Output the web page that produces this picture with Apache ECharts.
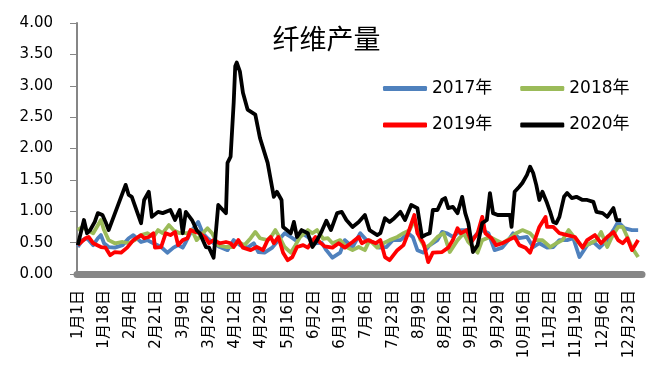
<!DOCTYPE html>
<html>
<head>
<meta charset="utf-8">
<script src="https://cdn.jsdelivr.net/npm/echarts@6/dist/echarts.min.js"></script>
<style>html,body{margin:0;padding:0;background:#fff}#c{width:653px;height:386px}</style>
</head>
<body>
<div id="c"></div>
<script>
// Category days for a leap year (2020): month lengths
const monthDays = [31, 29, 31, 30, 31, 30, 31, 31, 30, 31, 30, 31];
const categories = [];
monthDays.forEach((n, m) => { for (let d = 1; d <= n; d++) categories.push((m + 1) + '月' + d + '日'); });

const yTicks = [0, 0.5, 1, 1.5, 2, 2.5, 3, 3.5, 4];
const seriesNames = ['2017年', '2018年', '2019年', '2020年'];

// [day index, value] samples
const s2017 = [[0,0.43],[3,0.54],[6,0.57],[10,0.46],[13,0.57],[15,0.62],[17,0.49],[20,0.43],[24,0.42],[29,0.46],[33,0.57],[36,0.62],[41,0.51],[45,0.54],[49,0.49],[54,0.43],[58,0.34],[62,0.42],[65,0.46],[68,0.42],[70,0.51],[74,0.70],[78,0.83],[81,0.65],[84,0.57],[88,0.49],[92,0.43],[97,0.38],[101,0.54],[105,0.46],[110,0.42],[114,0.49],[117,0.35],[121,0.34],[126,0.42],[130,0.54],[134,0.65],[138,0.59],[141,0.54],[145,0.65],[149,0.59],[154,0.49],[158,0.50],[161,0.38],[165,0.26],[170,0.34],[173,0.54],[178,0.43],[183,0.65],[187,0.54],[191,0.51],[195,0.42],[200,0.43],[204,0.54],[209,0.54],[214,0.65],[217,0.59],[220,0.38],[224,0.34],[228,0.46],[233,0.54],[236,0.67],[239,0.65],[243,0.59],[248,0.70],[252,0.70],[255,0.54],[259,0.65],[262,0.70],[266,0.65],[270,0.38],[275,0.42],[279,0.54],[282,0.65],[286,0.57],[291,0.59],[295,0.43],[299,0.49],[304,0.42],[308,0.43],[312,0.54],[317,0.54],[321,0.57],[325,0.27],[330,0.46],[334,0.51],[338,0.42],[343,0.54],[347,0.70],[350,0.83],[354,0.73],[359,0.70],[363,0.70]];
const s2018 = [[0,0.70],[3,0.75],[6,0.70],[10,0.65],[15,0.86],[17,0.70],[20,0.54],[24,0.49],[29,0.51],[33,0.49],[37,0.54],[41,0.62],[45,0.65],[49,0.59],[52,0.70],[55,0.65],[59,0.78],[62,0.70],[66,0.65],[71,0.65],[74,0.70],[77,0.54],[81,0.65],[84,0.73],[87,0.65],[91,0.46],[96,0.43],[100,0.43],[104,0.51],[108,0.46],[112,0.57],[115,0.67],[118,0.57],[123,0.54],[126,0.62],[128,0.70],[131,0.57],[134,0.43],[138,0.34],[141,0.46],[144,0.59],[149,0.70],[152,0.65],[155,0.70],[159,0.56],[162,0.57],[165,0.49],[170,0.54],[174,0.43],[178,0.38],[182,0.43],[186,0.38],[189,0.54],[194,0.42],[198,0.49],[202,0.54],[207,0.59],[211,0.65],[215,0.70],[218,0.86],[222,0.54],[225,0.42],[228,0.46],[233,0.59],[237,0.65],[241,0.35],[246,0.54],[250,0.65],[253,0.51],[256,0.43],[259,0.34],[262,0.54],[267,0.59],[271,0.54],[275,0.49],[280,0.57],[284,0.65],[288,0.70],[293,0.65],[297,0.54],[301,0.54],[306,0.43],[310,0.49],[314,0.54],[318,0.70],[323,0.54],[327,0.43],[332,0.49],[336,0.54],[339,0.67],[343,0.43],[346,0.59],[350,0.75],[353,0.75],[356,0.59],[359,0.42],[363,0.27]];
const s2019 = [[0,0.46],[5,0.57],[7,0.59],[10,0.49],[15,0.43],[18,0.42],[21,0.30],[24,0.35],[28,0.34],[32,0.42],[36,0.54],[41,0.62],[43,0.57],[46,0.59],[49,0.65],[50,0.42],[54,0.43],[57,0.65],[60,0.62],[63,0.67],[65,0.46],[68,0.54],[71,0.57],[73,0.70],[76,0.67],[79,0.65],[83,0.57],[85,0.49],[88,0.54],[92,0.49],[96,0.51],[99,0.49],[101,0.43],[104,0.54],[107,0.42],[112,0.38],[116,0.43],[120,0.38],[123,0.54],[125,0.59],[127,0.49],[130,0.59],[133,0.34],[136,0.22],[139,0.27],[142,0.43],[146,0.46],[149,0.42],[154,0.59],[157,0.50],[160,0.44],[165,0.42],[169,0.49],[173,0.42],[178,0.51],[182,0.59],[184,0.49],[188,0.54],[193,0.49],[196,0.54],[199,0.27],[202,0.22],[207,0.38],[211,0.46],[214,0.65],[218,0.94],[220,0.65],[224,0.49],[227,0.19],[230,0.34],[236,0.35],[240,0.42],[243,0.54],[246,0.73],[248,0.65],[252,0.70],[255,0.51],[259,0.65],[262,0.91],[264,0.65],[268,0.57],[271,0.46],[275,0.49],[279,0.54],[283,0.59],[286,0.46],[290,0.42],[293,0.34],[296,0.54],[299,0.75],[303,0.91],[304,0.75],[308,0.75],[312,0.65],[317,0.62],[322,0.59],[327,0.42],[330,0.54],[335,0.62],[339,0.49],[343,0.59],[347,0.67],[350,0.54],[353,0.49],[356,0.57],[359,0.38],[361,0.46],[363,0.54]];
const s2020 = [[0,0.46],[4,0.86],[6,0.65],[8,0.70],[11,0.83],[13,0.97],[16,0.94],[18,0.83],[20,0.70],[31,1.42],[33,1.26],[35,1.23],[41,0.81],[43,1.18],[46,1.31],[48,0.91],[52,0.99],[55,0.97],[60,1.02],[63,0.86],[66,1.02],[68,0.65],[70,0.99],[74,0.86],[77,0.70],[79,0.65],[83,0.43],[85,0.42],[88,0.26],[91,1.10],[94,1.02],[96,0.97],[97,1.77],[99,1.87],[101,2.73],[102,3.31],[103,3.37],[105,3.23],[107,2.89],[110,2.62],[115,2.54],[118,2.17],[123,1.77],[127,1.23],[129,1.31],[132,1.18],[133,0.75],[138,0.65],[140,0.83],[142,0.59],[145,0.70],[149,0.65],[152,0.43],[155,0.54],[158,0.68],[161,0.85],[164,0.70],[168,0.97],[171,0.99],[174,0.86],[178,0.75],[182,0.83],[186,0.94],[189,0.70],[194,0.62],[196,0.65],[199,0.89],[202,0.83],[205,0.89],[209,0.99],[212,0.86],[216,1.10],[220,1.05],[223,0.59],[225,0.62],[228,0.65],[230,1.02],[233,1.02],[236,1.18],[238,1.21],[240,1.05],[243,1.07],[246,0.97],[249,1.23],[251,0.97],[253,0.81],[256,0.35],[259,0.46],[262,0.81],[265,0.86],[267,1.29],[269,0.97],[272,0.94],[280,0.94],[281,0.75],[283,1.31],[286,1.39],[288,1.45],[291,1.58],[293,1.71],[295,1.61],[297,1.42],[299,1.18],[301,1.31],[304,1.13],[306,0.99],[308,0.83],[310,0.81],[312,0.91],[315,1.23],[317,1.29],[320,1.21],[323,1.23],[327,1.18],[330,1.18],[334,1.15],[336,0.99],[340,0.97],[343,0.91],[347,1.05],[349,0.86],[352,0.86]];

const colors = ['#4F81BD', '#9BBB59', '#FF0000', '#000000'];
const seriesData = [s2017, s2018, s2019, s2020];

const FONT = '"DejaVu Sans", "Noto Sans CJK SC", sans-serif';
const chart = echarts.init(document.getElementById('c'), null, { renderer: 'canvas' });
const legendBase = { left: 383, padding: 0, itemWidth: 44, itemHeight: 5, itemGap: 28, icon: 'roundRect',
  textStyle: { fontFamily: FONT, fontSize: 17, color: '#000' } };
chart.setOption({
  animation: false,
  backgroundColor: '#fff',
  title: {
    text: '纤维产量', left: 'center', top: 20,
    textStyle: { fontFamily: '"Noto Sans CJK SC", sans-serif', fontSize: 27, fontWeight: 'normal', color: '#000' }
  },
  legend: [
    Object.assign({ data: [seriesNames[0], seriesNames[1]], top: 80 }, legendBase),
    Object.assign({ data: [seriesNames[2], seriesNames[3]], top: 116.5 }, legendBase)
  ],
  grid: { left: 77, right: 11, top: 23, bottom: 112, containLabel: false },
  xAxis: {
    type: 'category', data: categories, boundaryGap: true, offset: 3,
    axisLine: { lineStyle: { color: '#868686', width: 7 } },
    axisTick: { show: false },
    axisLabel: { interval: 16, rotate: 90, margin: 13, fontFamily: FONT, fontSize: 15, color: '#000' }
  },
  yAxis: {
    type: 'value', min: yTicks[0], max: yTicks[yTicks.length - 1], interval: 0.5,
    splitLine: { show: false },
    axisLine: { show: true, lineStyle: { color: '#868686', width: 2 } },
    axisTick: { show: true, length: 7, lineStyle: { color: '#868686', width: 1 } },
    axisLabel: { margin: 24, fontFamily: FONT, fontSize: 15, color: '#000', formatter: v => v.toFixed(2) }
  },
  series: seriesNames.map((n, i) => ({
    name: n, type: 'line', data: seriesData[i], symbol: 'none', showSymbol: false,
    lineStyle: { color: colors[i], width: 3.8, join: 'round' }, itemStyle: { color: colors[i] },
    z: 2 + i
  }))
});
</script>
</body>
</html>
